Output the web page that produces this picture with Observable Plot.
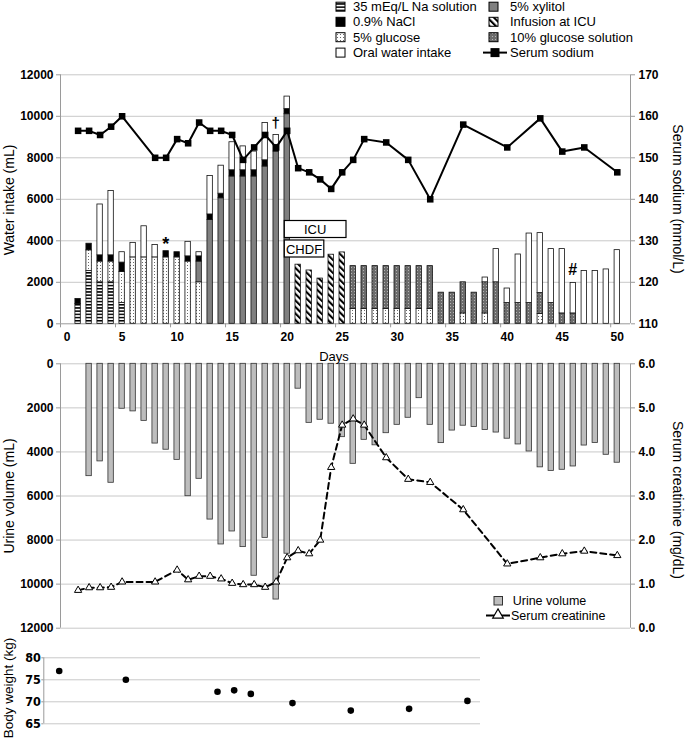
<!DOCTYPE html>
<html><head><meta charset="utf-8">
<script src="https://cdn.jsdelivr.net/npm/d3@7"></script>
<script src="https://cdn.jsdelivr.net/npm/@observablehq/plot@0.6"></script>
<style>
html,body{margin:0;padding:0;background:#fff;}
#wrap{position:relative;width:685px;height:742px;overflow:hidden;font-family:"Liberation Sans",Arial,Helvetica,sans-serif;}
#wrap svg{position:absolute;left:0;}
</style></head><body><div id="wrap"></div>
<script>
// ---------- DATA ----------
const days = d3.range(1, 51);
// water intake components (mL), day 1..50
const na35Sol  = [950,2540,2000,2000,1000,0,0,0,0,0, 0,0,0,0,0,0,0,0,0,0, 0,0,0,0,0,0,0,0,0,0, 0,0,0,0,0,0,0,0,0,0, 0,0,0,0,0,0,0,0,0,0];
const glucose5 = [0,1000,1000,1000,1500,3200,3200,3200,3200,3200, 3000,2000,0,0,0,0,0,0,0,0, 0,0,0,0,0,720,720,720,720,720, 720,720,720,0,0,500,0,500,0,0, 0,0,480,0,0,0,0,0,0,0];
const xylitol  = [0,0,0,0,0,0,0,0,0,0, 0,1000,5000,6050,7100,7100,7100,7580,8300,10100, 0,0,0,0,0,0,0,0,0,0, 0,0,0,0,0,0,0,0,0,0, 0,0,0,0,0,0,0,0,0,0];
const icuInfusion = [0,0,0,0,0,0,0,0,0,0, 0,0,0,0,0,0,0,0,0,0, 2850,2570,2180,3330,3440,0,0,0,0,0, 0,0,0,0,0,0,0,0,0,0, 0,0,0,0,0,0,0,0,0,0];
const glucose10 = [0,0,0,0,0,0,0,0,0,0, 0,0,0,0,0,0,0,0,0,0, 0,0,0,0,0,2060,2060,2060,2060,2060, 2060,2060,2060,1500,1500,1500,1500,1500,2000,1000, 1000,1000,1000,1000,500,500,0,0,0,0];
const nacl     = [250,320,300,300,450,0,0,0,300,250, 250,250,270,220,300,300,300,300,300,250, 0,0,0,0,0,0,0,0,0,0, 0,0,0,0,0,0,0,0,0,0, 0,0,0,0,0,0,0,0,0,0];
const oral     = [0,0,2450,3100,500,700,1500,600,0,0, 700,200,1850,1350,1350,1150,900,1800,500,600, 0,0,0,0,0,0,0,0,0,0, 0,0,0,0,0,0,0,230,1600,700, 2340,3350,2890,2600,3100,1470,2540,2540,2620,3550];

// serum sodium (mmol/L)
const naDays = [1,2,3,4,5,8,9,10,11,12,13,14,15,16,17,18,19,20,21,22,23,24,25,26,27,29,31,33,36,40,43,45,47,50];
const naVals = [156.5,156.5,155.5,157.5,160,150,150,154.5,153.5,158.5,156.5,156.5,155.5,149.5,152.5,155.5,152.5,156.5,147.5,146.5,144.8,142.5,146.5,149.5,154.5,153.7,149.5,140,158,152.5,159.5,151.5,152.5,146.5];

// urine volume (mL), days 2..50
const urineDays = d3.range(2, 51);
const urineVals = [5100,4430,5400,2040,2160,2590,3620,3900,4360,6010,5220,7070,8200,7610,8320,9620,7900,10700,8620,1130,2680,2540,2720,3330,4540,3450,3700,3150,2770,2450,1560,2770,3600,3030,2810,2870,3000,3120,3400,3660,3980,4700,4860,4810,4660,3710,3590,4130,4490];

// serum creatinine (mg/dL)
const crDays = [1,2,3,4,5,8,10,11,12,13,14,15,16,17,18,19,20,21,22,23,24,25,26,27,29,31,33,36,40,43,45,47,50];
const crVals = [0.86,0.92,0.92,0.93,1.05,1.05,1.32,1.1,1.18,1.18,1.12,1.02,0.99,0.99,0.93,1.05,1.6,1.76,1.69,2.0,3.65,4.61,4.75,4.61,3.87,3.38,3.31,2.69,1.46,1.6,1.69,1.75,1.65];

// body weight (kg)
const wDays = [1,9,20,22,24,29,36,43,50];
const wVals = [77,75,72.3,72.6,71.8,69.7,68,68.4,70.2];

const xTickLabels = [0,5,10,15,20,25,30,35,40,45,50];
const intakeTicks = [0,2000,4000,6000,8000,10000,12000];
const weightTicks = [65,70,75,80];

const compNames = {Na35:"35 mEq/L Na solution", NaCl:"0.9% NaCl", Glu5:"5% glucose", Oral:"Oral water intake",
                   Xyl:"5% xylitol", ICU:"Infusion at ICU", Glu10:"10% glucose solution"};
const series = {Na35:na35Sol, Glu5:glucose5, Xyl:xylitol, ICU:icuInfusion, Glu10:glucose10, NaCl:nacl, Oral:oral};
const stackOrder = ["Na35","Glu5","Xyl","ICU","Glu10","NaCl","Oral"];

// ---------- STYLE ----------
const FONT = '"Liberation Sans", Arial, Helvetica, sans-serif';
const NARROW = '"Liberation Sans Narrow", "DejaVu Sans Condensed", "Liberation Sans", Arial, sans-serif';
const AXIS = "#9a9a9a", GRID = "#c8c8c8";
const fills = {Na35:"url(#pNa35)", NaCl:"#000000", Glu5:"url(#pGlu5)", Oral:"#ffffff", Xyl:"#808080", ICU:"url(#pICU)", Glu10:"url(#pGlu10)"};
const W = 685;
const wrap = d3.select("#wrap");

// patterns
const defs = wrap.append("svg").attr("width",0).attr("height",0).style("top","0px").append("defs");
let p = defs.append("pattern").attr("id","pNa35").attr("patternUnits","userSpaceOnUse").attr("width",6).attr("height",3.2);
p.append("rect").attr("width",6).attr("height",3.2).attr("fill","#fff");
p.append("rect").attr("width",6).attr("height",1.5).attr("fill","#000");
p = defs.append("pattern").attr("id","pGlu5").attr("patternUnits","userSpaceOnUse").attr("width",3).attr("height",3);
p.append("rect").attr("width",3).attr("height",3).attr("fill","#fff");
p.append("rect").attr("x",1).attr("y",1).attr("width",1).attr("height",1).attr("fill","#6a6a6a");
p = defs.append("pattern").attr("id","pICU").attr("patternUnits","userSpaceOnUse").attr("width",4.6).attr("height",4.6).attr("patternTransform","rotate(-45)");
p.append("rect").attr("width",4.6).attr("height",4.6).attr("fill","#fff");
p.append("rect").attr("width",2.1).attr("height",4.6).attr("fill","#000");
p = defs.append("pattern").attr("id","pGlu10").attr("patternUnits","userSpaceOnUse").attr("width",3).attr("height",3);
p.append("rect").attr("width",3).attr("height",3).attr("fill","#6c6c6c");
p.append("rect").attr("x",0).attr("y",0).attr("width",1).attr("height",1).attr("fill","#b4b4b4");

// ---------- TABLES ----------
const intake = stackOrder.flatMap(c => days.map((d,i) => ({day:d, comp:c, value:series[c][i]}))).filter(r => r.value > 0);
const totals = days.map((d,i) => ({day:d, total: stackOrder.reduce((s,c)=>s+series[c][i],0)}));
const sodium = naDays.map((d,i) => ({day:d, na:naVals[i]}));
const urine = urineDays.map((d,i) => ({day:d, v:urineVals[i]}));
const creat = crDays.map((d,i) => ({day:d, cr:crVals[i]}));
const weight = wDays.map((d,i) => ({day:d, w:wVals[i]}));
const marks3 = [{day:9, s:"*", dy:-5, size:18},{day:19, s:"\u2020", dy:-10, size:15},{day:46, s:"#", dy:-12, size:16}]
  .map(m => ({...m, total: totals[m.day-1].total}));

const xDomain = [-0.6, 51.2];
const xTickMarks = d3.range(0, 11).map(k => xDomain[0] + 5*k);
const naToY = v => (v - 110) * 200;          // 110..170 mmol/L  <-> 0..12000 mL
const crToY = v => (6 - v) * 2000;           // 6.0..0.0 mg/dL   <-> 0..12000 mL
const halfW = 0.5, inset = 2.8;

function place(svg, top) { svg.style.position = "absolute"; svg.style.top = top + "px"; svg.style.left = "0px"; wrap.node().appendChild(svg); }

// ---------- TOP: water intake + sodium ----------
const topPlot = Plot.plot({
  width: W, height: 345, marginLeft: 60, marginRight: 55, marginTop: 74.3, marginBottom: 21.7,
  style: {background:"transparent", overflow:"visible", fontFamily: FONT, fontSize:"12px", color:"#000"},
  x: {domain: xDomain, axis: null},
  y: {domain: [0, 12000], axis: null},
  color: {domain: stackOrder, range: stackOrder.map(c => fills[c])},
  marks: [
    Plot.gridY(intakeTicks.slice(1), {stroke: GRID, strokeOpacity: 1}),
    Plot.ruleY([0], {stroke: AXIS}),
    Plot.ruleX(xDomain, {stroke: AXIS}),
    Plot.axisY({anchor:"left", ticks: intakeTicks, tickFormat: d => String(d), tickSize: 4, tickPadding: 3, fontWeight:"bold", stroke: AXIS, label: null}),
    Plot.axisY({anchor:"right", ticks: intakeTicks, tickFormat: d => String(110 + d/200), tickSize: 4, tickPadding: 4, fontWeight:"bold", stroke: AXIS, label: null}),
    Plot.axisX({ticks: xTickLabels, tickSize: 0, tickPadding: 9, fontWeight:"bold", label: null}),
    Plot.axisX({ticks: xTickMarks, tickSize: 4, tickFormat: () => "", stroke: AXIS, label: null}),
    Plot.rectY(intake, Plot.stackY({x1: d => d.day - halfW, x2: d => d.day + halfW, y: "value", fill: "comp", order: stackOrder,
      insetLeft: inset, insetRight: inset, stroke: "#111", strokeWidth: 0.8})),
    Plot.line(sodium, {x: "day", y: d => naToY(d.na), stroke: "#000", strokeWidth: 2}),
    Plot.dot(sodium, {x: "day", y: d => naToY(d.na), symbol: "square", r: 3.7, fill: "#000"})
  ]
});
place(topPlot, 0);

// annotations (*, †, #) placed through the plot's own scales
const sx = topPlot.scale("x"), sy = topPlot.scale("y");
const ann = d3.select(topPlot);
marks3.forEach(m => {
  ann.append("text").attr("x", sx.apply(m.day)).attr("y", sy.apply(m.total) + m.dy)
    .attr("text-anchor","middle").attr("dominant-baseline","middle")
    .attr("font-weight","bold").attr("font-size", m.size).attr("font-family", FONT).text(m.s);
});

// ---------- MIDDLE: urine + creatinine ----------
const midPlot = Plot.plot({
  width: W, height: 300, marginLeft: 60, marginRight: 55, marginTop: 18.3, marginBottom: 17.3,
  style: {background:"transparent", overflow:"visible", fontFamily: FONT, fontSize:"12px", color:"#000"},
  x: {domain: xDomain, axis: null},
  y: {domain: [0, 12000], reverse: true, axis: null},
  marks: [
    Plot.gridY(intakeTicks, {stroke: GRID, strokeOpacity: 1}),
    Plot.ruleX(xDomain, {stroke: AXIS}),
    Plot.axisY({anchor:"left", ticks: intakeTicks, tickFormat: d => String(d), tickSize: 4, tickPadding: 3, fontWeight:"bold", stroke: AXIS, label: null}),
    Plot.axisY({anchor:"right", ticks: intakeTicks, tickFormat: d => (6 - d/2000).toFixed(1), tickSize: 4, tickPadding: 4, fontWeight:"bold", stroke: AXIS, label: null}),
    Plot.rectY(urine, {x1: d => d.day - halfW, x2: d => d.day + halfW, y: "v", insetLeft: inset, insetRight: inset,
      fill: "#bdbdbd", stroke: "#333", strokeWidth: 0.8}),
    Plot.line(creat, {x: "day", y: d => crToY(d.cr), stroke: "#000", strokeWidth: 2, strokeDasharray: "6,4"}),
    Plot.dot(creat, {x: "day", y: d => crToY(d.cr), symbol: "triangle", r: 2.7, fill: "#fff", stroke: "#000", strokeWidth: 1})
  ]
});
place(midPlot, 345);

// ---------- BOTTOM: body weight ----------
const botPlot = Plot.plot({
  width: W, height: 97, marginLeft: 43.3, marginRight: 205, marginTop: 12.3, marginBottom: 18.7,
  style: {background:"transparent", overflow:"visible", fontFamily: FONT, fontSize:"12px", color:"#000"},
  x: {domain: [-0.85, 51.57], axis: null},
  y: {domain: [65, 80], axis: null},
  marks: [
    Plot.gridY(weightTicks, {stroke: GRID, strokeOpacity: 1}),
    Plot.ruleX([-0.85], {stroke: AXIS}),
    Plot.axisY({anchor:"left", ticks: weightTicks, tickSize: 2, tickPadding: 1, fontWeight:"bold", fontFamily: NARROW, fontSize: 12.5, stroke: AXIS, label: null}),
    Plot.dot(weight, {x: "day", y: "w", r: 3.3, fill: "#000"})
  ]
});
place(botPlot, 645);

// ---------- OVERLAY: titles, legends, boxes ----------
const ov = wrap.append("svg").attr("width", W).attr("height", 742).style("top","0px").style("pointer-events","none")
  .attr("font-family", FONT).attr("fill", "#000");
function vtitle(x, y, rot, s, size = 14) {
  ov.append("text").attr("transform", `translate(${x},${y}) rotate(${rot})`).attr("text-anchor","middle")
    .attr("dominant-baseline","central").attr("font-size", size).text(s);
}
vtitle(8.5, 200, -90, "Water intake (mL)");
vtitle(677.5, 199, 90, "Serum sodium (mmol/L)");
vtitle(8.5, 496, -90, "Urine volume (mL)");
vtitle(677.5, 500, 90, "Serum creatinine (mg/dL)");
vtitle(8.5, 688, -90, "Body weight (kg)", 13.5);
ov.append("text").attr("x", 334).attr("y", 356).attr("text-anchor","middle").attr("dominant-baseline","central").attr("font-size", 13).text("Days");

// ICU / CHDF boxes
[[284.3, 220.5, 61.7, 17, "ICU"], [284.3, 240, 39.5, 17, "CHDF"]].forEach(([x,y,w,h,s]) => {
  ov.append("rect").attr("x",x).attr("y",y).attr("width",w).attr("height",h).attr("fill","#fff").attr("stroke","#000").attr("stroke-width",1.2);
  ov.append("text").attr("x", x + w/2).attr("y", y + h/2 + 0.5).attr("text-anchor","middle").attr("dominant-baseline","central").attr("font-size", 13).text(s);
});

// top legend
const legRows = [6.7, 21.8, 37.2, 52.6];
const col1 = ["Na35","NaCl","Glu5","Oral"], col2 = ["Xyl","ICU","Glu10"];
col1.forEach((c,i) => {
  ov.append("rect").attr("x", 336).attr("y", legRows[i]-4.5).attr("width", 9).attr("height", 9).attr("fill", fills[c]).attr("stroke","#000").attr("stroke-width",1);
  ov.append("text").attr("x", 353).attr("y", legRows[i]).attr("dominant-baseline","central").attr("font-size", 13).text(compNames[c]);
});
col2.forEach((c,i) => {
  ov.append("rect").attr("x", 489).attr("y", legRows[i]-4.5).attr("width", 9).attr("height", 9).attr("fill", fills[c]).attr("stroke","#000").attr("stroke-width",1);
  ov.append("text").attr("x", 510).attr("y", legRows[i]).attr("dominant-baseline","central").attr("font-size", 13).text(compNames[c]);
});
ov.append("line").attr("x1", 483).attr("x2", 507).attr("y1", legRows[3]).attr("y2", legRows[3]).attr("stroke","#000").attr("stroke-width",2);
ov.append("rect").attr("x", 490.5).attr("y", legRows[3]-4.5).attr("width", 9).attr("height", 9).attr("fill","#000");
ov.append("text").attr("x", 510).attr("y", legRows[3]).attr("dominant-baseline","central").attr("font-size", 13).text("Serum sodium");

// middle legend
ov.append("rect").attr("x", 494).attr("y", 596.5).attr("width", 8.5).attr("height", 8.5).attr("fill","#bdbdbd").attr("stroke","#333").attr("stroke-width",1);
ov.append("text").attr("x", 512.7).attr("y", 600.8).attr("dominant-baseline","central").attr("font-size", 12.5).text("Urine volume");
ov.append("line").attr("x1", 486).attr("x2", 510).attr("y1", 615.5).attr("y2", 615.5).attr("stroke","#000").attr("stroke-width",2);
ov.append("path").attr("d", d3.symbol(d3.symbolTriangle, 48)()).attr("transform","translate(498,615)").attr("fill","#fff").attr("stroke","#000").attr("stroke-width",1.2);
ov.append("text").attr("x", 511).attr("y", 615.5).attr("dominant-baseline","central").attr("font-size", 12.5).text("Serum creatinine");
</script></body></html>
